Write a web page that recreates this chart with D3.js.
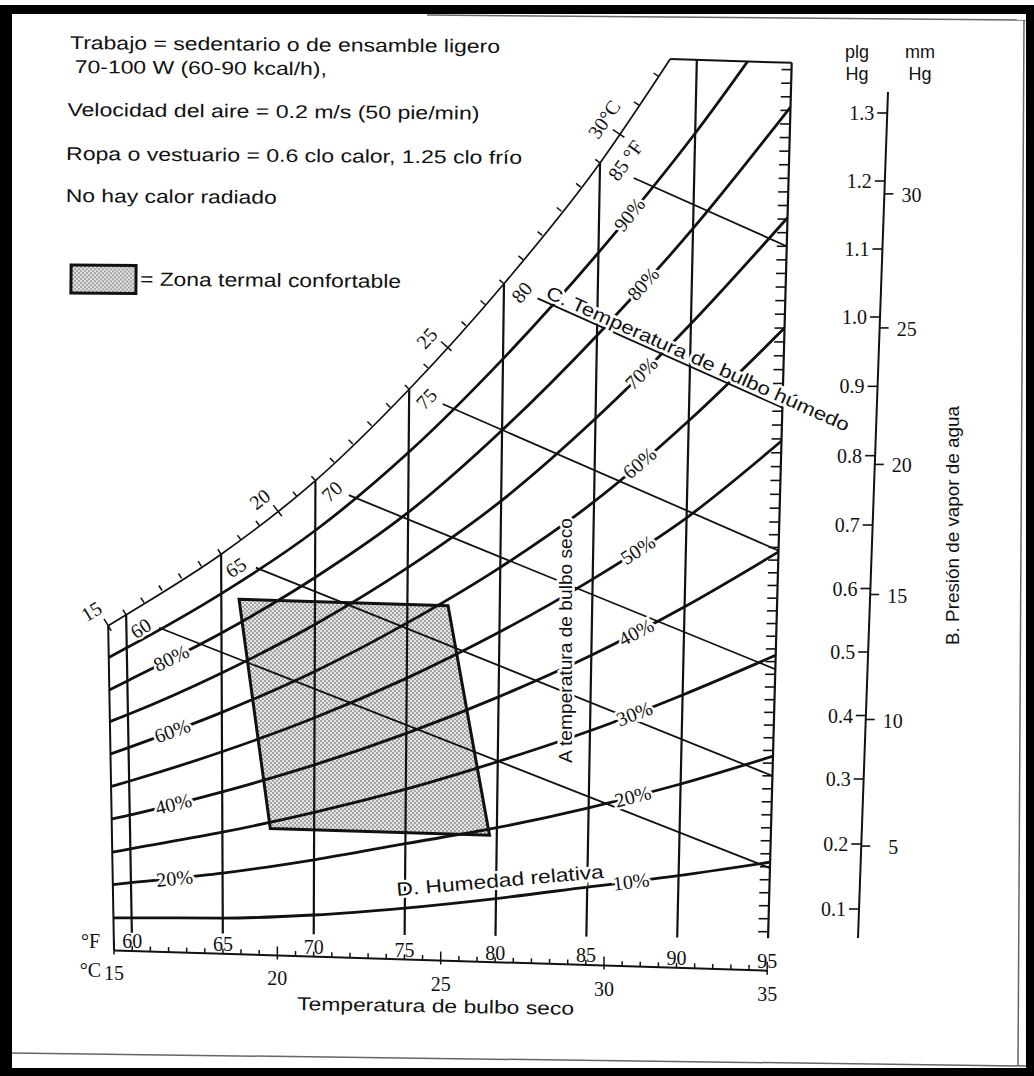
<!DOCTYPE html>
<html>
<head>
<meta charset="utf-8">
<script src="https://cdn.jsdelivr.net/npm/d3@7"></script>
<style>
  body { margin: 0; background: #fff; }
  svg { display: block; }
  .serif { font-family: 'Liberation Serif', 'DejaVu Serif', serif; }
  .sans { font-family: 'Liberation Sans', Arial, 'DejaVu Sans', sans-serif; }
</style>
</head>
<body>
<svg id="chart" width="1034" height="1076"></svg>
<script>
/* Carta de confort termal: presión de vapor (plg Hg) contra temperatura de bulbo seco (°F) */

// dry bulb nodes (°F) shared by the relative humidity curves
const dryBulbF = [59, 60, 65, 70, 75, 80, 85, 90, 95];
const gridF = [60, 65, 70, 75, 80, 85, 90];

// saturation curve (100 %), vapour pressure in plg Hg
const satF = [59, 60, 65, 70, 75, 80, 85, 88.6];
const satP = [0.504, 0.522, 0.622, 0.739, 0.875, 1.032, 1.214, 1.37];
const pTop = 1.37;

// relative humidity curves, vapour pressure at each dry bulb node
const rhLevels = [10, 20, 30, 40, 50, 60, 70, 80, 90];
const rhP = [
  [0.050, 0.051, 0.055, 0.064, 0.079, 0.098, 0.120, 0.142, 0.167],
  [0.101, 0.105, 0.124, 0.149, 0.178, 0.207, 0.242, 0.283, 0.331],
  [0.151, 0.157, 0.187, 0.222, 0.262, 0.309, 0.362, 0.423, 0.490],
  [0.202, 0.209, 0.249, 0.295, 0.349, 0.411, 0.481, 0.562, 0.653],
  [0.252, 0.261, 0.311, 0.369, 0.436, 0.513, 0.601, 0.702, 0.817],
  [0.302, 0.313, 0.373, 0.442, 0.523, 0.615, 0.721, 0.842, 0.980],
  [0.353, 0.365, 0.435, 0.516, 0.610, 0.718, 0.841, 0.982, 1.142],
  [0.403, 0.418, 0.498, 0.590, 0.697, 0.820, 0.961, 1.122, 1.305],
  [0.454, 0.470, 0.560, 0.664, 0.784, 0.923, 1.082, 1.262, 1.468],
];
const rhLabelRight = [10, 20, 30, 40, 50, 60, 70, 80, 90];
const rhLabelLeft = [20, 40, 60, 80];

// wet bulb lines: start on saturation, end on the 95 °F edge
const wetBulbF = [60, 65, 70, 75, 80, 85];
const wetBulbEndP = [0.158, 0.300, 0.468, 0.655, 0.865, 1.100];
const wetBulbLabels = ['60', '65', '70', '75', '80', '85 °F'];

// comfort zone corners
const comfortT = [65.9, 77.2, 79.6, 67.6];
const comfortP = [0.552, 0.552, 0.195, 0.195];

// axes
const bottomF = [60, 65, 70, 75, 80, 85, 90, 95];
const bottomC = [15, 20, 25, 30, 35];
const satC = [15, 20, 25, 30];
const satCLabels = ['15', '20', '25', '30°C'];
const inHgTicks = [0.1, 0.2, 0.3, 0.4, 0.5, 0.6, 0.7, 0.8, 0.9, 1.0, 1.1, 1.2, 1.3];
const mmHgTicks = [5, 10, 15, 20, 25, 30];

const notes = [
  'Trabajo = sedentario o de ensamble ligero',
  '70-100 W (60-90 kcal/h),',
  'Velocidad del aire = 0.2 m/s (50 pie/min)',
  'Ropa o vestuario = 0.6 clo calor, 1.25 clo frío',
  'No hay calor radiado',
];

const svg = d3.select('#chart');

// ---- scales, fitted to the printed sheet (it is slightly tilted) ----
const pScale = d3.scaleLinear().domain([0, 0.3, 0.7, 1.0, 1.3]).range([974, 779, 525, 317, 113]);
const tScale = d3.scaleLinear().domain([60, 95]).range([132, 768]);
const lean = d3.scaleLinear().domain([59, 62, 66, 95]).range([-0.018, -0.018, 0, 0.027]);
const tilt = 0.031;

function proj(t, p) {
  const yp = pScale(p);
  const xb = tScale(t);
  const y0 = yp - (875 - xb) * tilt;
  const x = xb + lean(t) * (940 - y0);
  return [x, yp - (875 - x) * tilt];
}

const satAt = d3.scaleLinear().domain(satF).range(satP);
const rhAt = rhP.map((vals) => d3.scaleLinear().domain(dryBulbF).range(vals));
const smooth = d3.line().curve(d3.curveMonotoneX);
const deg = (r) => (r * 180) / Math.PI;
const toF = (c) => (c * 9) / 5 + 32;

function angleOn(fn, t) {
  const a = proj(t - 0.4, fn(t - 0.4));
  const b = proj(t + 0.4, fn(t + 0.4));
  return Math.atan2(b[1] - a[1], b[0] - a[0]);
}

// ---- page frame ----
svg.append('rect').attr('width', 1034).attr('height', 1076).attr('fill', '#fff');
const frameBars = [[0, 5, 1034, 9], [0, 5, 12, 1071], [1026, 5, 8, 1071], [0, 1068, 1034, 8]];
svg.selectAll('rect.frame')
  .data(frameBars)
  .enter()
  .append('rect')
  .attr('class', 'frame')
  .attr('x', (d) => d[0])
  .attr('y', (d) => d[1])
  .attr('width', (d) => d[2])
  .attr('height', (d) => d[3])
  .attr('fill', '#000');

const pageEdges = [[[427, 15], [1026, 20]], [[12, 1053], [1026, 1066]], [[1024, 20], [1018, 1066]]];
svg.selectAll('line.edge')
  .data(pageEdges)
  .enter()
  .append('line')
  .attr('class', 'edge')
  .attr('x1', (d) => d[0][0]).attr('y1', (d) => d[0][1])
  .attr('x2', (d) => d[1][0]).attr('y2', (d) => d[1][1])
  .attr('stroke', '#666')
  .attr('stroke-width', 1.5);

// dotted fill for the comfort zone
const defs = svg.append('defs');
const pat = defs.append('pattern')
  .attr('id', 'dots')
  .attr('width', 4).attr('height', 4)
  .attr('patternUnits', 'userSpaceOnUse');
pat.append('rect').attr('width', 4).attr('height', 4).attr('fill', '#e4e4e4');
pat.append('circle').attr('cx', 1).attr('cy', 1).attr('r', 0.8).attr('fill', '#555');
pat.append('circle').attr('cx', 3).attr('cy', 3).attr('r', 0.8).attr('fill', '#555');

// ---- notes block ----
const noteX = [70, 75, 68, 67, 67];
const noteY = [49, 73, 116, 160, 202];
const noteLen = [430, 252, 412, 456, 211];
const notesG = svg.append('g').attr('transform', 'rotate(0.5,70,50)');
notesG.selectAll('text')
  .data(notes)
  .enter()
  .append('text')
  .attr('class', 'sans')
  .attr('x', (d, i) => noteX[i])
  .attr('y', (d, i) => noteY[i])
  .attr('textLength', (d, i) => noteLen[i])
  .attr('lengthAdjust', 'spacingAndGlyphs')
  .attr('font-size', 18.5)
  .attr('fill', '#111')
  .text((d) => d);

notesG.append('rect')
  .attr('x', 73).attr('y', 265).attr('width', 65).attr('height', 28)
  .attr('fill', 'url(#dots)')
  .attr('stroke', '#111').attr('stroke-width', 3);
notesG.append('text')
  .attr('class', 'sans')
  .attr('x', 142).attr('y', 285)
  .attr('textLength', 261).attr('lengthAdjust', 'spacingAndGlyphs')
  .attr('font-size', 19).attr('fill', '#111')
  .text('= Zona termal confortable');

// ---- chart ----
const chart = svg.append('g');
const satPts = satF.map((t, i) => proj(t, satP[i]));
const satPath = smooth(satPts);

defs.append('clipPath').attr('id', 'area')
  .append('path')
  .attr('d', `M${proj(59, 0)}L${satPath.slice(1)}L${proj(95, pTop)}L${proj(95, 0)}Z`);

// comfort zone fill
const zonePts = comfortT.map((t, i) => proj(t, comfortP[i]));
chart.append('polygon')
  .attr('points', zonePts.map((p) => p.join(',')).join(' '))
  .attr('fill', 'url(#dots)');

const grid = chart.append('g').attr('clip-path', 'url(#area)').attr('fill', 'none').attr('stroke', '#111');

// dry bulb verticals
const vBottom = d3.scaleLinear().domain([60, 95]).range([0.028, 0.05]);
grid.selectAll('line.db')
  .data(gridF)
  .enter()
  .append('line')
  .attr('class', 'db')
  .each(function (t) {
    const a = proj(t, Math.min(satAt(t), pTop));
    const b = proj(t, vBottom(t));
    d3.select(this).attr('x1', a[0]).attr('y1', a[1]).attr('x2', b[0]).attr('y2', b[1]);
  })
  .attr('stroke-width', 2.2);

// relative humidity curves
grid.selectAll('path.rh')
  .data(rhP)
  .enter()
  .append('path')
  .attr('class', 'rh')
  .attr('d', (vals) => smooth(dryBulbF.map((t, j) => proj(t, vals[j]))))
  .attr('stroke-width', 2.8);

// wet bulb lines
const wbStart = (i) => {
  const t0 = 1.8 / (95 - wetBulbF[i]);
  const p0 = satAt(wetBulbF[i]);
  return proj(wetBulbF[i] + 1.8, p0 + t0 * (wetBulbEndP[i] - p0));
};
grid.selectAll('line.wb')
  .data(wetBulbF)
  .enter()
  .append('line')
  .attr('class', 'wb')
  .each(function (t, i) {
    const a = wbStart(i);
    const b = proj(95, wetBulbEndP[i]);
    d3.select(this).attr('x1', a[0]).attr('y1', a[1]).attr('x2', b[0]).attr('y2', b[1]);
  })
  .attr('stroke-width', 1.8);

// outline
const outline = chart.append('g').attr('fill', 'none').attr('stroke', '#111');
outline.append('path').attr('d', satPath).attr('stroke-width', 1.7);
outline.append('path').attr('d', d3.line()([proj(59, 0), proj(59, satP[0])])).attr('stroke-width', 2);
outline.append('path').attr('d', d3.line()([satPts[satPts.length - 1], proj(95, pTop)])).attr('stroke-width', 2);
outline.append('path').attr('d', d3.line()([proj(95, pTop), proj(95, 0.05)])).attr('stroke-width', 2.2);
outline.append('path').attr('d', d3.line()([proj(59, 0), proj(95, 0)])).attr('stroke-width', 2);

// minor ticks on the 95 °F edge, every 0.02 plg Hg
outline.selectAll('line.rt')
  .data(d3.range(0.06, 1.365, 0.02))
  .enter()
  .append('line')
  .attr('class', 'rt')
  .each(function (p) {
    const a = proj(95, p);
    d3.select(this).attr('x1', a[0] - 10).attr('y1', a[1]).attr('x2', a[0]).attr('y2', a[1]);
  })
  .attr('stroke-width', 1.6);

// ticks along the saturation curve, every °F, crossing at each 5 °C
outline.selectAll('line.st')
  .data(d3.range(59, 89))
  .enter()
  .append('line')
  .attr('class', 'st')
  .each(function (t) {
    const a = proj(t, satAt(t));
    const ang = angleOn(satAt, t);
    const nx = Math.sin(ang);
    const ny = -Math.cos(ang);
    const major = (t - 59) % 9 === 0;
    const inner = major ? -6 : 0;
    const outer = major ? 8 : 6;
    d3.select(this)
      .attr('x1', a[0] + nx * inner).attr('y1', a[1] + ny * inner)
      .attr('x2', a[0] + nx * outer).attr('y2', a[1] + ny * outer);
  })
  .attr('stroke-width', 1.5);

// ticks on the bottom °C axis, every °F
outline.selectAll('line.bt')
  .data(d3.range(59, 96))
  .enter()
  .append('line')
  .attr('class', 'bt')
  .each(function (t) {
    const a = proj(t, 0);
    const major = (t - 59) % 9 === 0;
    d3.select(this)
      .attr('x1', a[0]).attr('y1', a[1] - (major ? 9 : 5))
      .attr('x2', a[0]).attr('y2', a[1] + (major ? 4 : 0));
  })
  .attr('stroke-width', 1.5);

// comfort zone border
chart.append('polygon')
  .attr('points', zonePts.map((p) => p.join(',')).join(' '))
  .attr('fill', 'none')
  .attr('stroke', '#111')
  .attr('stroke-width', 3);

// ---- labels ----
const labels = chart.append('g').attr('fill', '#111');
const halo = (sel) => sel.attr('stroke', '#fff').attr('stroke-width', 5).attr('paint-order', 'stroke');

function onCurve(fn, t, dx, dy, txt, anchor, cls, size) {
  const a = proj(t, fn(t));
  return labels.append('text')
    .attr('class', cls)
    .attr('transform', `translate(${a[0]},${a[1]}) rotate(${deg(angleOn(fn, t))})`)
    .attr('x', dx).attr('y', dy)
    .attr('text-anchor', anchor)
    .attr('font-size', size)
    .text(txt);
}

rhLabelRight.forEach((rh) => {
  const t = rh === 90 ? 86.6 : 87.4;
  halo(onCurve(rhAt[rhLevels.indexOf(rh)], t, 0, 7, `${rh}%`, 'middle', 'serif', 20));
});
rhLabelLeft.forEach((rh) => {
  halo(onCurve(rhAt[rhLevels.indexOf(rh)], 62.4, 0, 7, `${rh}%`, 'middle', 'serif', 20));
});
wetBulbF.forEach((t, i) => {
  halo(onCurve(satAt, t, -5, 26, wetBulbLabels[i], 'start', 'serif', 20));
});
satC.forEach((c, i) => {
  halo(onCurve(satAt, toF(c), -17, -14, satCLabels[i], 'start', 'serif', 20));
});

// bottom scales
labels.selectAll('text.bf')
  .data(bottomF)
  .enter()
  .append('text')
  .attr('class', 'serif bf')
  .attr('x', (t) => proj(t, 0.004)[0])
  .attr('y', (t) => proj(t, 0.004)[1])
  .attr('text-anchor', 'middle')
  .attr('font-size', 20)
  .text((t) => t);
labels.append('text')
  .attr('class', 'serif')
  .attr('x', proj(60, 0.004)[0] - 32).attr('y', proj(60, 0.004)[1])
  .attr('text-anchor', 'end').attr('font-size', 20)
  .text('°F');

labels.selectAll('text.bc')
  .data(bottomC)
  .enter()
  .append('text')
  .attr('class', 'serif bc')
  .attr('x', (c) => proj(toF(c), 0)[0])
  .attr('y', (c) => proj(toF(c), 0)[1] + 30)
  .attr('text-anchor', 'middle')
  .attr('font-size', 20)
  .text((c) => c);
labels.append('text')
  .attr('class', 'serif')
  .attr('x', proj(59, 0)[0] - 13).attr('y', proj(59, 0)[1] + 27)
  .attr('text-anchor', 'end').attr('font-size', 20)
  .text('°C');

labels.append('text')
  .attr('class', 'sans')
  .attr('transform', 'translate(297,1010) rotate(1)')
  .attr('textLength', 277).attr('lengthAdjust', 'spacingAndGlyphs')
  .attr('font-size', 18.5)
  .text('Temperatura de bulbo seco');

// C. wet bulb title along the 80 °F wet bulb line
{
  const i = wetBulbF.indexOf(80);
  const a = wbStart(i);
  const b = proj(95, wetBulbEndP[i]);
  const ang = deg(Math.atan2(b[1] - a[1], b[0] - a[0]));
  halo(labels.append('text')
    .attr('class', 'sans')
    .attr('transform', `translate(${a[0]},${a[1]}) rotate(${ang})`)
    .attr('x', 6).attr('y', -4)
    .attr('textLength', 330).attr('lengthAdjust', 'spacingAndGlyphs')
    .attr('font-size', 18.5)
    .text('C. Temperatura de bulbo húmedo'));
}

halo(labels.append('text')
  .attr('class', 'sans')
  .attr('transform', 'translate(572,763) rotate(-90)')
  .attr('textLength', 245).attr('lengthAdjust', 'spacingAndGlyphs')
  .attr('font-size', 19)
  .text('A temperatura de bulbo seco'));

halo(labels.append('text')
  .attr('class', 'sans')
  .attr('transform', 'translate(397,896) rotate(-5)')
  .attr('textLength', 208).attr('lengthAdjust', 'spacingAndGlyphs')
  .attr('font-size', 19)
  .text('D. Humedad relativa'));

// ---- B. vapour pressure scale ----
const axisX = d3.scaleLinear().domain([92, 938]).range([888, 858]);
const bAxis = svg.append('g').attr('stroke', '#111').attr('fill', 'none');
bAxis.append('line')
  .attr('x1', axisX(92)).attr('y1', 92)
  .attr('x2', axisX(938)).attr('y2', 938)
  .attr('stroke-width', 2);
bAxis.selectAll('line.in')
  .data(inHgTicks)
  .enter()
  .append('line')
  .attr('class', 'in')
  .attr('x1', (v) => axisX(pScale(v)) - 10)
  .attr('x2', (v) => axisX(pScale(v)))
  .attr('y1', (v) => pScale(v))
  .attr('y2', (v) => pScale(v))
  .attr('stroke-width', 1.6);
bAxis.selectAll('line.mm')
  .data(mmHgTicks)
  .enter()
  .append('line')
  .attr('class', 'mm')
  .attr('x1', (v) => axisX(pScale(v / 25.4)))
  .attr('x2', (v) => axisX(pScale(v / 25.4)) + 9)
  .attr('y1', (v) => pScale(v / 25.4))
  .attr('y2', (v) => pScale(v / 25.4))
  .attr('stroke-width', 1.6);

const bText = svg.append('g').attr('fill', '#111');
bText.selectAll('text.in')
  .data(inHgTicks)
  .enter()
  .append('text')
  .attr('class', 'serif in')
  .attr('x', (v) => axisX(pScale(v)) - 13)
  .attr('y', (v) => pScale(v) + 7)
  .attr('text-anchor', 'end')
  .attr('font-size', 20)
  .text((v) => v.toFixed(1));
bText.selectAll('text.mm')
  .data(mmHgTicks)
  .enter()
  .append('text')
  .attr('class', 'serif mm')
  .attr('x', (v) => axisX(pScale(v / 25.4)) + 37)
  .attr('y', (v) => pScale(v / 25.4) + 8)
  .attr('text-anchor', 'end')
  .attr('font-size', 20)
  .text((v) => v);

const units = [['plg', 857, 58], ['Hg', 857, 80], ['mm', 920, 58], ['Hg', 920, 80]];
bText.selectAll('text.unit')
  .data(units)
  .enter()
  .append('text')
  .attr('class', 'sans unit')
  .attr('x', (d) => d[1])
  .attr('y', (d) => d[2])
  .attr('text-anchor', 'middle')
  .attr('font-size', 18)
  .text((d) => d[0]);

bText.append('text')
  .attr('class', 'sans')
  .attr('transform', 'translate(959,645) rotate(-90)')
  .attr('textLength', 239).attr('lengthAdjust', 'spacingAndGlyphs')
  .attr('font-size', 19)
  .text('B. Presión de vapor de agua');
</script>
</body>
</html>
